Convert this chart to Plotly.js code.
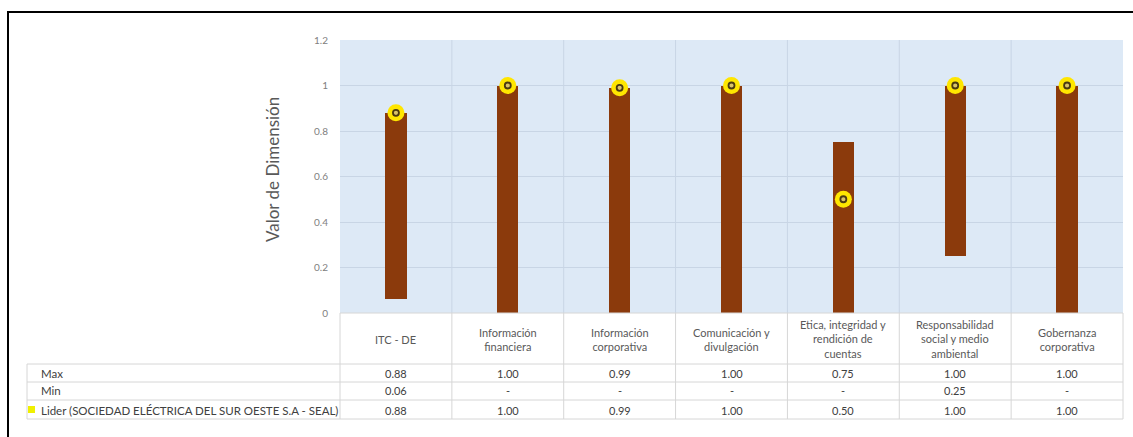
<!DOCTYPE html>
<html>
<head>
<meta charset="utf-8">
<script src="https://cdn.plot.ly/plotly-3.0.1.min.js"></script>
<style>
  html, body { margin: 0; padding: 0; background: #ffffff; }
  #chart { width: 1133px; height: 437px; }
</style>
</head>
<body>
<div id="chart"></div>
<script>
// Dimension names (header cells of the data table)
const categories = [
  'ITC - DE',
  'Información<br>financiera',
  'Información<br>corporativa',
  'Comunicación y<br>divulgación',
  'Etica, integridad y<br>rendición de<br>cuentas',
  'Responsabilidad<br>social y medio<br>ambiental',
  'Gobernanza<br>corporativa'
];

// Series values
const maxVals   = [0.88, 1.00, 0.99, 1.00, 0.75, 1.00, 1.00];
const minVals   = [0.06, null, null, null, null, 0.25, null];
const liderVals = [0.88, 1.00, 0.99, 1.00, 0.50, 1.00, 1.00];

// Row labels of the data table
const rowLabels = ['Max', 'Min', 'Lider (SOCIEDAD ELÉCTRICA DEL SUR OESTE S.A - SEAL)'];

// Y axis ticks
const yTicks = [0, 0.2, 0.4, 0.6, 0.8, 1, 1.2];

// ---- layout geometry (pixels) ----
const W = 1133, H = 437;
const L = 340, R = 10, T = 40, B = 124;
const plotW = W - L - R, plotH = H - T - B;
const px = x => (x - L) / plotW;
const py = y => (H - B - y) / plotH;

const FONT = 'Lato, "Open Sans", sans-serif';
const gridColor = '#c8d5e5';
const tableLine = '#d6d6d6';

const tableTop = 313, headerBottom = 364;
const rowLines = [364, 382, 400, 419];
const rowCenters = [373, 391, 410];
const tableLeft = 27, tableRight = W - R;

const nCat = categories.length;

// ---- traces ----
const barTrace = {
  type: 'bar',
  x: categories,
  base: minVals.map(v => (v == null ? 0 : v)),
  y: maxVals.map((m, i) => m - (minVals[i] == null ? 0 : minVals[i])),
  width: 0.19,
  marker: { color: '#8b3a0c', line: { width: 0 } },
  hoverinfo: 'skip',
  showlegend: false
};

const liderOuter = {
  type: 'scatter', mode: 'markers',
  x: categories, y: liderVals,
  marker: { symbol: 'circle', size: 17, color: '#ffe600', line: { width: 0 } },
  hoverinfo: 'skip', showlegend: false
};

const liderInner = {
  type: 'scatter', mode: 'markers',
  x: categories, y: liderVals,
  marker: { symbol: 'circle', size: 6, color: '#d9c36a', line: { width: 1.8, color: '#4a3a12' } },
  hoverinfo: 'skip', showlegend: false
};

// ---- shapes: frame, category separators, data table grid ----
const shapes = [];

// outer frame (left and top edges)
shapes.push({
  type: 'path', xref: 'paper', yref: 'paper',
  path: `M ${px(8)},${py(H + 5)} L ${px(8)},${py(12)} L ${px(W + 5)},${py(12)}`,
  line: { color: '#000000', width: 2 }, layer: 'above'
});

// vertical separators between categories inside the plot and through the table
for (let i = 0; i < nCat - 1; i++) {
  shapes.push({
    type: 'line', xref: 'x', yref: 'paper',
    x0: i + 0.5, x1: i + 0.5, y0: 0, y1: 1,
    line: { color: gridColor, width: 1 }, layer: 'below'
  });
  shapes.push({
    type: 'line', xref: 'x', yref: 'paper',
    x0: i + 0.5, x1: i + 0.5, y0: py(tableTop), y1: py(rowLines[3]),
    line: { color: tableLine, width: 1 }
  });
}

// table outer verticals
shapes.push({ type: 'line', xref: 'paper', yref: 'paper',
  x0: 0, x1: 0, y0: py(tableTop), y1: py(rowLines[3]), line: { color: tableLine, width: 1 } });
shapes.push({ type: 'line', xref: 'paper', yref: 'paper',
  x0: 1, x1: 1, y0: py(tableTop), y1: py(rowLines[3]), line: { color: tableLine, width: 1 } });
shapes.push({ type: 'line', xref: 'paper', yref: 'paper',
  x0: px(tableLeft), x1: px(tableLeft), y0: py(headerBottom), y1: py(rowLines[3]), line: { color: tableLine, width: 1 } });

// table horizontals
shapes.push({ type: 'line', xref: 'paper', yref: 'paper',
  x0: 0, x1: 1, y0: py(tableTop), y1: py(tableTop), line: { color: tableLine, width: 1 } });
rowLines.forEach(y => {
  shapes.push({ type: 'line', xref: 'paper', yref: 'paper',
    x0: px(tableLeft), x1: px(tableRight), y0: py(y), y1: py(y), line: { color: tableLine, width: 1 } });
});

// legend key for the Lider row
shapes.push({ type: 'rect', xref: 'paper', yref: 'paper',
  x0: px(28), x1: px(35), y0: py(413), y1: py(406),
  fillcolor: '#f0f000', line: { width: 0 } });

// ---- annotations: axis title, table header, table values, row labels ----
const annotations = [];

annotations.push({
  xref: 'paper', yref: 'paper', x: px(272), y: py(170),
  text: 'Valor de Dimensión', textangle: -90, showarrow: false,
  font: { family: FONT, size: 17, color: '#595959' },
  xanchor: 'center', yanchor: 'middle'
});

categories.forEach((c) => {
  annotations.push({
    xref: 'x', yref: 'paper', x: c, y: py(339),
    text: c, showarrow: false, align: 'center',
    font: { family: FONT, size: 11, color: '#595959' },
    xanchor: 'center', yanchor: 'middle'
  });
});

const fmt = v => (v == null ? '-' : v.toFixed(2));
[maxVals, minVals, liderVals].forEach((row, r) => {
  row.forEach((v, i) => {
    annotations.push({
      xref: 'x', yref: 'paper', x: categories[i], y: py(rowCenters[r]),
      text: fmt(v), showarrow: false,
      font: { family: FONT, size: 11, color: '#404040' },
      xanchor: 'center', yanchor: 'middle'
    });
  });
  annotations.push({
    xref: 'paper', yref: 'paper', x: px(39), y: py(rowCenters[r]),
    text: rowLabels[r], showarrow: false,
    font: { family: FONT, size: 11.5, color: '#404040' },
    xanchor: 'left', yanchor: 'middle'
  });
});

const layout = {
  width: W, height: H,
  margin: { l: L, r: R, t: T, b: B, pad: 0 },
  paper_bgcolor: '#ffffff',
  plot_bgcolor: '#dde9f6',
  showlegend: false,
  bargap: 0,
  xaxis: {
    type: 'category',
    range: [-0.5, nCat - 0.5],
    showticklabels: false, ticks: '',
    showgrid: false, zeroline: false, showline: false,
    fixedrange: true
  },
  yaxis: {
    range: [0, 1.2],
    tickvals: yTicks,
    ticktext: yTicks.map(v => String(v)),
    ticks: 'outside', ticklen: 9, tickcolor: 'rgba(0,0,0,0)',
    tickfont: { family: FONT, size: 10, color: '#808080' },
    showgrid: true, gridcolor: gridColor, gridwidth: 1,
    zeroline: false, showline: false,
    fixedrange: true
  },
  shapes: shapes,
  annotations: annotations
};

Plotly.newPlot('chart', [barTrace, liderOuter, liderInner], layout, { displayModeBar: false, staticPlot: true });
</script>
</body>
</html>
